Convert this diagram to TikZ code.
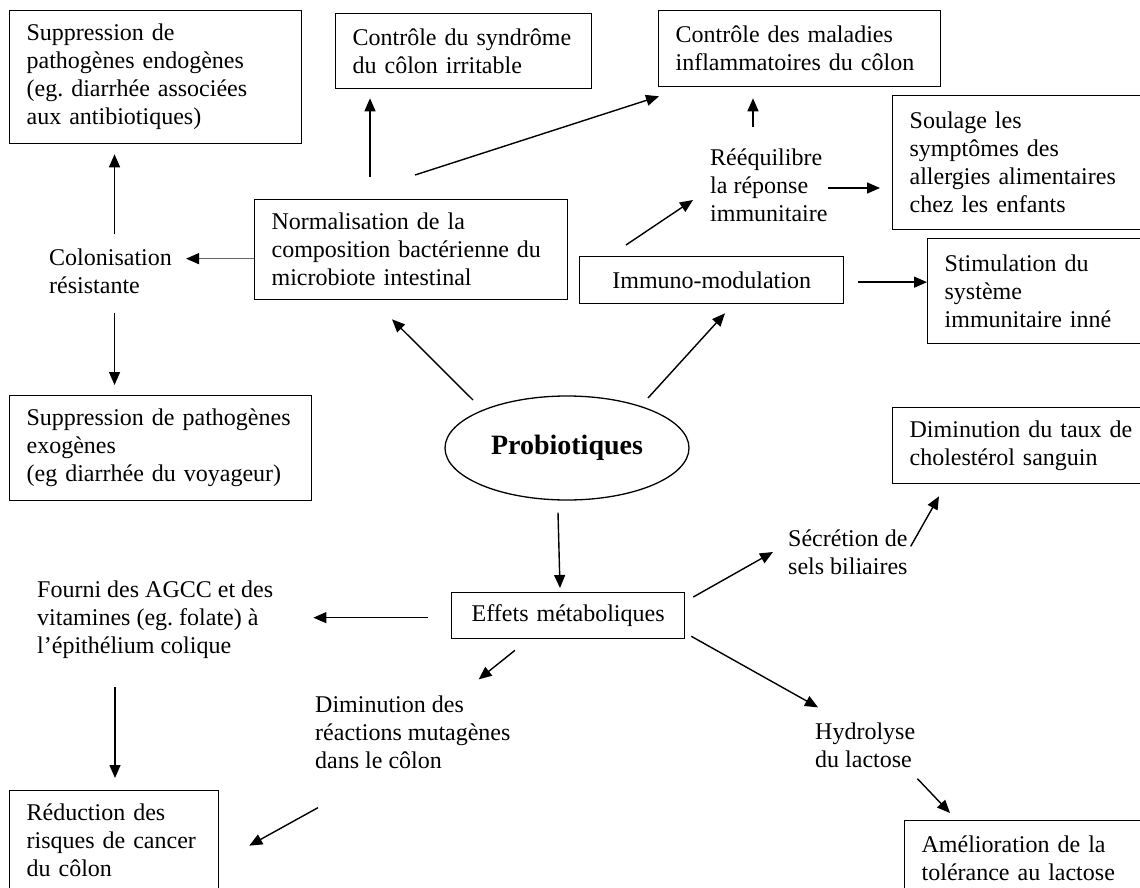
\documentclass[tikz,border=0pt]{standalone}
\usepackage{fontspec}
\setmainfont{Liberation Serif}
\usetikzlibrary{arrows.meta,shapes.geometric}
\frenchspacing

\tikzset{
  boite/.style={draw, line width=1.3pt, anchor=north west, align=left, inner xsep=17pt, inner ysep=0pt},
  texte/.style={align=left, inner sep=0pt, anchor=west},
  fleche/.style={-{Triangle[length=13pt,width=11pt]}, line width=1.4pt},
}

\begin{document}
\begin{tikzpicture}[x=1pt, y=-1pt, font=\fontsize{24}{28}\selectfont]
  \useasboundingbox (0,0) rectangle (1140,888);

  % boites du haut
  \node[boite, text width=258pt, minimum height=133pt] (endo) at (9,10)
    {Suppression de\\pathogènes endogènes\\(eg. diarrhée associées\\aux antibiotiques)};
  \node[boite, text width=222pt, minimum height=75pt] (ibs) at (335,13)
    {Contrôle du syndrôme\\du côlon irritable};
  \node[boite, text width=248pt, minimum height=76pt] (mici) at (658,10)
    {Contrôle des maladies\\inflammatoires du côlon};
  \node[boite, text width=226pt, minimum height=134pt] (allergie) at (892,95)
    {Soulage les\\symptômes des\\allergies alimentaires\\chez les enfants};
  \node[boite, text width=279pt, minimum height=100pt] (normal) at (254,199)
    {Normalisation de la\\composition bactérienne du\\microbiote intestinal};
  \node[boite, align=center, text width=230pt, minimum height=47pt] (immuno) at (579,256)
    {Immuno-modulation};
  \node[boite, text width=191pt, minimum height=105pt] (stim) at (927,238)
    {Stimulation du\\système\\immunitaire inné};

  % milieu
  \node[boite, text width=268pt, minimum height=105pt] (exo) at (9,395)
    {Suppression de pathogènes\\exogènes\\(eg diarrhée du voyageur)};
  \node[boite, text width=226pt, minimum height=76pt] (chol) at (892,407)
    {Diminution du taux de\\cholestérol sanguin};
  \node[ellipse, draw, line width=1.3pt, minimum width=244pt, minimum height=104pt,
    font=\fontsize{28}{32}\selectfont\bfseries] (prob) at (567,448) {Probiotiques};
  \node[boite, align=center, text width=199pt, minimum height=46pt] (effets) at (451,592)
    {Effets métaboliques};

  % bas
  \node[boite, text width=175pt, minimum height=100pt] (cancer) at (9,790)
    {Réduction des\\risques de cancer\\du côlon};
  \node[boite, text width=214pt, minimum height=76pt] (lact) at (904,820)
    {Amélioration de la\\tolérance au lactose};

  % textes sans cadre
  \node[texte] (colon) at (49,271) {Colonisation\\résistante};
  \node[texte] (reeq) at (710,185) {Rééquilibre\\la réponse\\immunitaire};
  \node[texte] (fourni) at (37,620) {Fourni des AGCC et des\\vitamines (eg. folate) à\\l’épithélium colique};
  \node[texte] (mutag) at (315,732) {Diminution des\\réactions mutagènes\\dans le côlon};
  \node[texte] (secr) at (788,552) {Sécrétion de\\sels biliaires};
  \node[texte] (hydro) at (815,745) {Hydrolyse\\du lactose};

  % fleches
  \draw[fleche, shorten <=14pt, shorten >=10pt] ([xshift=4pt]colon.north) -- ([xshift=4pt]colon.north |- endo.south);
  \draw[fleche, shorten <=19pt, shorten >=10pt] ([xshift=4pt]colon.south) -- ([xshift=4pt]colon.south |- exo.north);
  \draw[fleche, draw=black!60, -{Triangle[length=13pt,width=11pt,black]}, shorten >=14pt]
    ([yshift=-9pt]normal.west) -- ([yshift=-9pt]normal.west -| colon.east);
  \draw[fleche, shorten <=22pt, shorten >=9pt] ([xshift=116pt]normal.north west) -- ([xshift=116pt]normal.north west |- ibs.south);
  \draw[fleche] ([xshift=161pt,yshift=24pt]normal.north west) -- ([xshift=1pt,yshift=-9pt]mici.south west);
  \draw[fleche, shorten <=21pt, shorten >=11pt] ([xshift=95pt]mici.south west |- reeq.north) -- ([xshift=95pt]mici.south west);
  \draw[fleche] ([xshift=47pt,yshift=11pt]immuno.north west) -- ([xshift=-17pt,yshift=-15pt]reeq.west);
  \draw[fleche, shorten >=12pt] ([yshift=-3pt]reeq.east) -- ([yshift=-3pt]reeq.east -| allergie.west);
  \draw[fleche, shorten <=14pt] ([yshift=-2pt]immuno.east) -- ([yshift=-2pt]immuno.east -| stim.west);
  \draw[fleche] ([xshift=-94pt,yshift=48pt]prob.center) -- ([xshift=138pt,yshift=-19pt]normal.south west);
  \draw[fleche] ([xshift=81pt,yshift=50pt]prob.center) -- ([xshift=146pt,yshift=-9pt]immuno.south west);
  \draw[fleche] ([xshift=-9pt,yshift=-12pt]prob.south) -- ([xshift=109pt,yshift=4pt]effets.north west);
  \draw[fleche, shorten <=23pt, shorten >=40pt] ([yshift=-2pt]effets.west) -- ([yshift=-2pt]effets.west -| fourni.east);
  \draw[fleche] ([xshift=64pt,yshift=-11pt]effets.south west) -- ([xshift=-32pt,yshift=16pt]mutag.north east);
  \draw[fleche] ([xshift=3pt,yshift=-39pt]mutag.south west) -- ([xshift=30pt,yshift=-5pt]cancer.east);
  \draw[fleche, shorten <=28pt, shorten >=12pt] ([xshift=78pt]fourni.south west) -- ([xshift=78pt]fourni.south west |- cancer.north);
  \draw[fleche] ([xshift=8pt,yshift=-5pt]effets.north east) -- ([xshift=-15pt]secr.west);
  \draw[fleche] ([xshift=3pt,yshift=-17pt]secr.north east) -- ([xshift=47pt,yshift=-12pt]chol.south west);
  \draw[fleche] ([xshift=6pt,yshift=3pt]effets.south east) -- ([xshift=3pt,yshift=15pt]hydro.north west);
  \draw[fleche] ([xshift=2pt,yshift=-11pt]hydro.south east) -- ([xshift=46pt,yshift=7pt]lact.north west);
\end{tikzpicture}
\end{document}
